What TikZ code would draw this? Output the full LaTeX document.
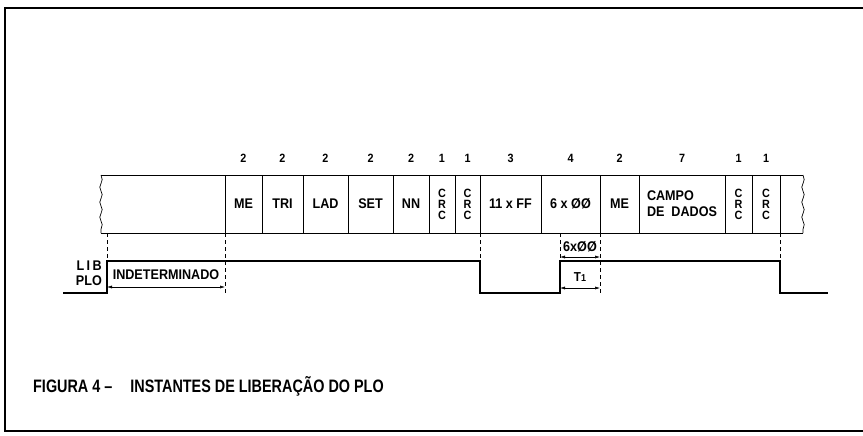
\documentclass[tikz,border=0pt]{standalone}
\usepackage{fontspec}
\setmainfont{Liberation Sans}[FakeStretch=0.9]
\newfontfamily\captionfont{Liberation Sans}[FakeStretch=0.8]
\usepackage{tikz}
\usetikzlibrary{
    arrows.meta,
    positioning,
    decorations.pathmorphing
}

\begin{document}
\begin{tikzpicture}[
    x=1pt, y=-1pt,
    field/.style={
        draw,
        line width=0.9pt,
        minimum height=58pt,
        inner sep=0pt,
        outer sep=0pt,
        font=\bfseries\fontsize{14}{16}\selectfont
    },
    crc/.style={
        field,
        align=center,
        font=\bfseries\fontsize{12}{11}\selectfont
    },
    count/.style={
        inner sep=0pt,
        font=\bfseries\fontsize{12}{13}\selectfont
    },
    tag/.style={
        inner sep=0pt,
        font=\bfseries\fontsize{14}{15}\selectfont
    },
    guide/.style={
        line width=0.6pt,
        dash pattern=on 4pt off 3pt
    },
    signal/.style={
        line width=1.6pt
    },
    span/.style={
        {Latex[length=5pt,width=3pt]}-{Latex[length=5pt,width=3pt]},
        line width=0.5pt
    },
    torn/.style={
        line width=0.7pt,
        decorate,
        decoration={snake, amplitude=1.2pt, segment length=15pt}
    }
]

\useasboundingbox (0,0) rectangle (863,436);

% frame
\draw[line width=2.5pt] (866,8) -- (5,8) -- (5,431) -- (866,431);

% record fields
\node[field, draw=none, minimum width=124pt, anchor=north west]
    (lead) at (101,175) {};
\node[field, minimum width=37pt, right=0pt of lead] (me) {ME};
\node[field, minimum width=41pt, right=0pt of me] (tri) {TRI};
\node[field, minimum width=45pt, right=0pt of tri] (lad) {LAD};
\node[field, minimum width=45pt, right=0pt of lad] (set) {SET};
\node[field, minimum width=36pt, right=0pt of set] (nn) {NN};
\node[crc, minimum width=26pt, right=0pt of nn] (crcA) {C\\R\\C};
\node[crc, minimum width=25pt, right=0pt of crcA] (crcB) {C\\R\\C};
\node[field, minimum width=61pt, right=0pt of crcB] (ff) {11 x FF};
\node[field, minimum width=59pt, right=0pt of ff] (zeros) {6 x ØØ};
\node[field, minimum width=39pt, right=0pt of zeros] (meB) {ME};
\node[field, minimum width=86pt, align=left, right=0pt of meB]
    (dados) {CAMPO\\DE \ DADOS};
\node[crc, minimum width=27pt, right=0pt of dados] (crcC) {C\\R\\C};
\node[crc, minimum width=28pt, right=0pt of crcC] (crcD) {C\\R\\C};
\node[field, draw=none, minimum width=23pt, right=0pt of crcD] (tail) {};

\draw[line width=0.9pt] (lead.north west) -- (tail.north east);
\draw[line width=0.9pt] (lead.south west) -- (tail.south east);
\draw[torn] (lead.north west) -- (lead.south west);
\draw[torn] (tail.north east) -- (tail.south east);

% byte counts
\node[count, above=12pt of me] (nME) {2};
\node[count, above=12pt of tri] (nTRI) {2};
\node[count, above=12pt of lad] (nLAD) {2};
\node[count, above=12pt of set] (nSET) {2};
\node[count, above=12pt of nn] (nNN) {2};
\node[count, above=12pt of crcA] (nCRCA) {1};
\node[count, above=12pt of crcB] (nCRCB) {1};
\node[count, above=12pt of ff] (nFF) {3};
\node[count, above=12pt of zeros] (nZEROS) {4};
\node[count, above=12pt of meB] (nMEB) {2};
\node[count, above=12pt of dados] (nDADOS) {7};
\node[count, above=12pt of crcC] (nCRCC) {1};
\node[count, above=12pt of crcD] (nCRCD) {1};

% signal levels and instants
\coordinate (hi) at (0,261);
\coordinate (lo) at (0,293);
\coordinate (t0) at (107,0);
\coordinate (t1) at (560,0);
\coordinate (sigin) at (63,293);
\coordinate (sigout) at (828,293);

\node[tag, align=right, anchor=east] (lib) at (102,273)
    {L\kern2.5pt I\kern2.5pt B\\PLO};

\draw[signal] (sigin) -- (t0 |- lo) -- (t0 |- hi)
    -- (ff.south west |- hi) -- (ff.south west |- lo)
    -- (t1 |- lo) -- (t1 |- hi)
    -- (tail.south west |- hi) -- (tail.south west |- lo) -- (sigout);

% guide lines
\draw[guide] (t0 |- lead.south) -- (t0 |- hi);
\draw[guide] (me.south west) -- (me.south west |- lo);
\draw[guide] (ff.south west) -- (ff.south west |- hi);
\draw[guide] (t1 |- zeros.south) -- (t1 |- hi);
\draw[guide] (meB.south west) -- (meB.south west |- lo);
\draw[guide] (tail.south west) -- (tail.south west |- hi);

% spans
\coordinate (lvlIndet) at (0,287);
\coordinate (lvlZeros) at (0,257);
\coordinate (lvlT) at (0,288);

\node[tag] (indet) at (166,275) {INDETERMINADO};
\draw[span] (t0 |- lvlIndet) -- (me.west |- lvlIndet);

\node[tag] (spanZeros) at (580,247) {6xØØ};
\draw[span] (t1 |- lvlZeros) -- (meB.west |- lvlZeros);

\node[tag, font=\bfseries\fontsize{13}{14}\selectfont] (spanT) at (580,277)
    {T{\fontsize{10}{11}\selectfont 1}};
\draw[span] (t1 |- lvlT) -- (meB.west |- lvlT);

% caption
\node[anchor=west, inner sep=0pt, font=\captionfont\bfseries\fontsize{18}{20}\selectfont]
    (caption) at (33,386)
    {FIGURA 4 –\quad INSTANTES DE LIBERAÇÃO DO PLO};

\end{tikzpicture}
\end{document}
